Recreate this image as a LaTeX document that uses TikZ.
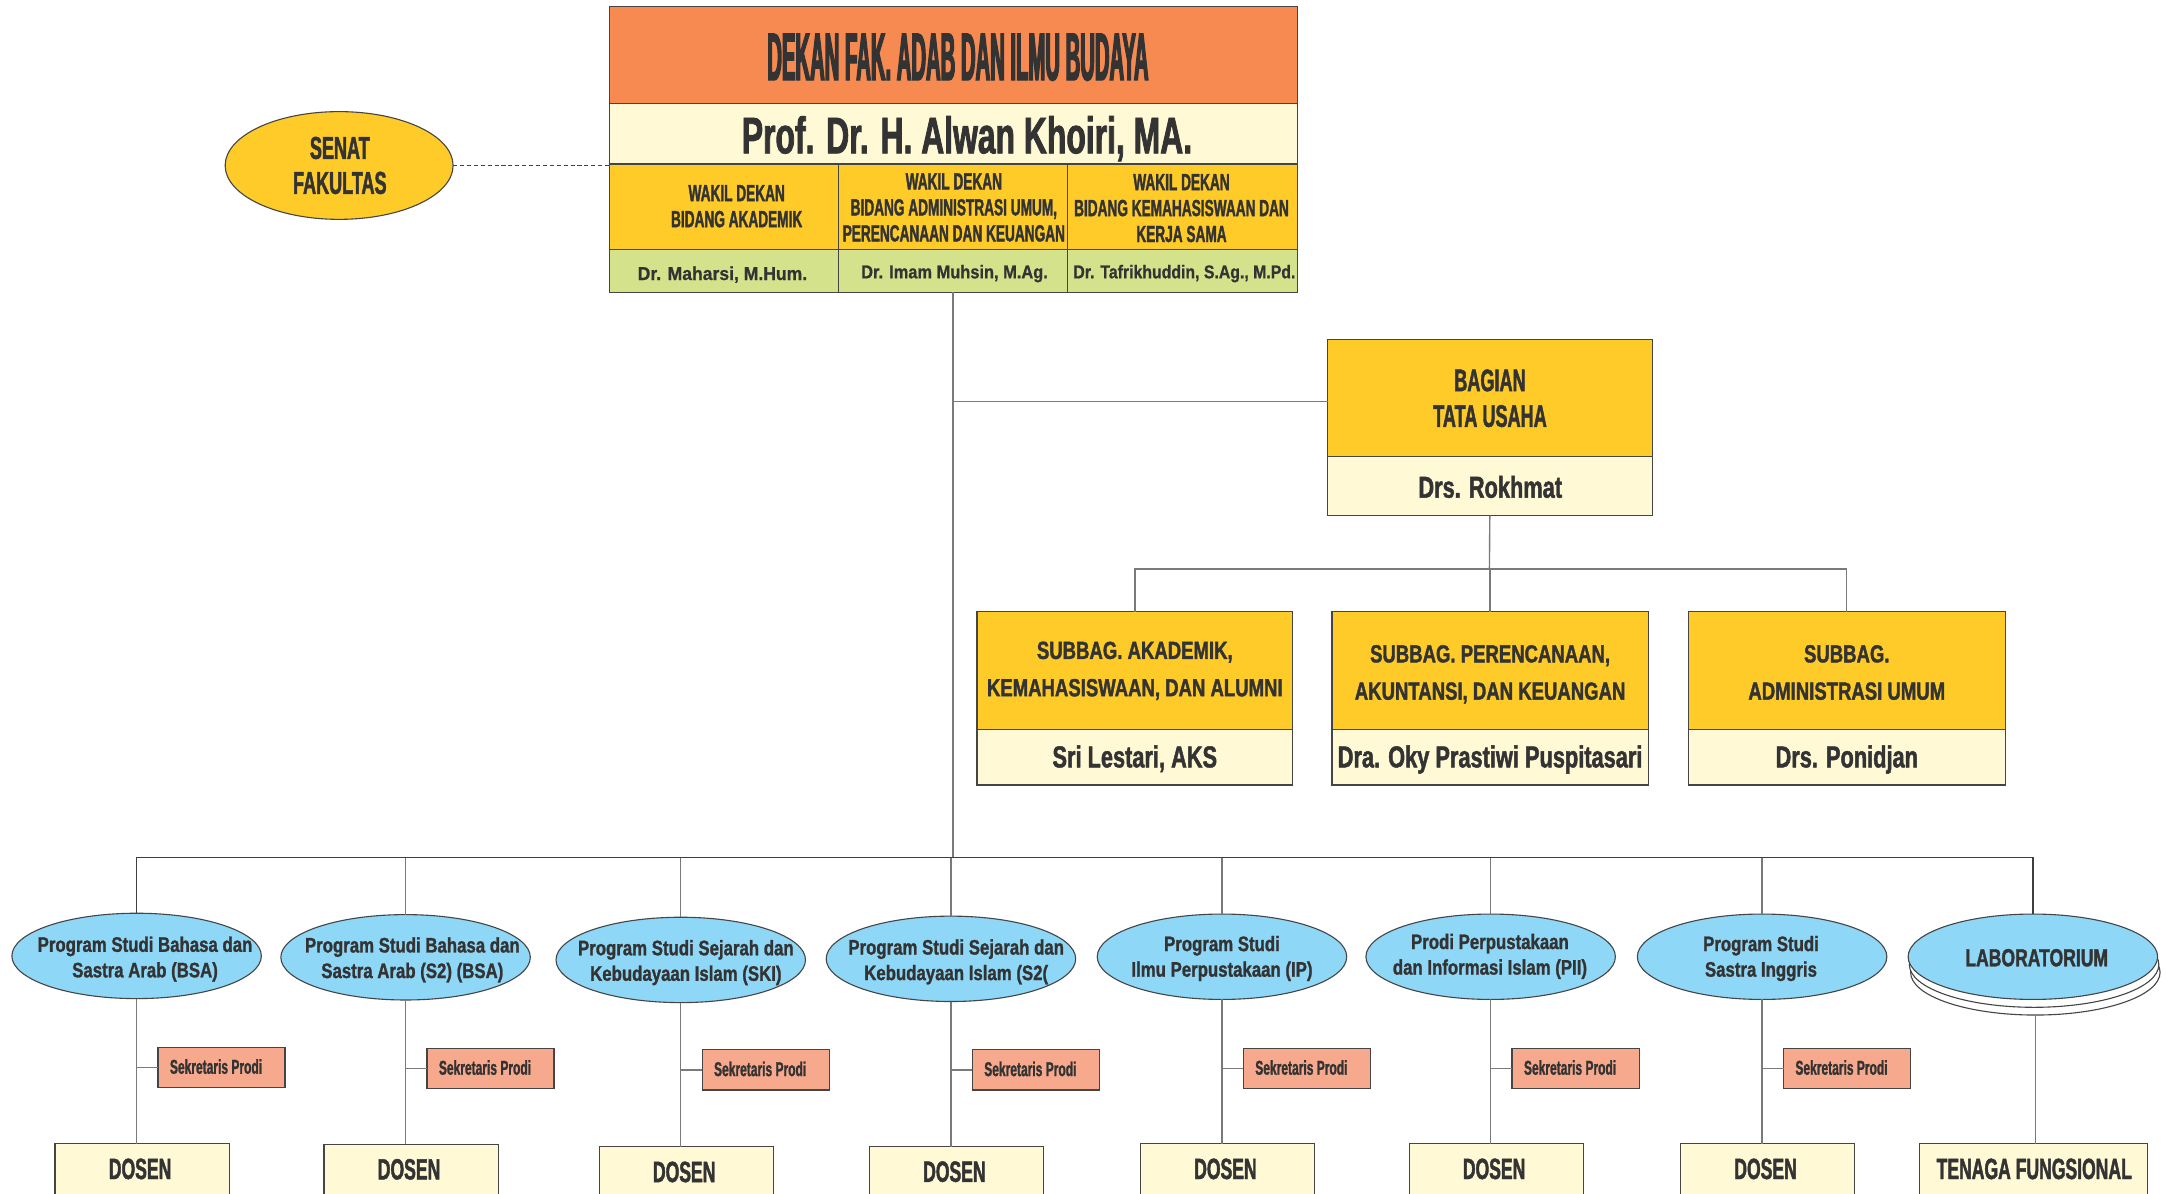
\documentclass[tikz,border=0pt]{standalone}
\usepackage{fontspec}
\setmainfont{Liberation Sans}
\newfontfamily\fTitle{Liberation Sans}[FakeStretch=0.30,FakeBold=1.8]
\newfontfamily\fProf{Liberation Sans}[FakeStretch=0.62,FakeBold=1.5]
\newfontfamily\fWakil{Liberation Sans}[FakeStretch=0.585,FakeBold=1.5]
\newfontfamily\fWname{Liberation Sans}[FakeStretch=0.88,FakeBold=0.8]
\newfontfamily\fSenat{Liberation Sans}[FakeStretch=0.57,FakeBold=1.5]
\newfontfamily\fBag{Liberation Sans}[FakeStretch=0.58,FakeBold=1.5]
\newfontfamily\fName{Liberation Sans}[FakeStretch=0.72,FakeBold=1.5]
\newfontfamily\fSub{Liberation Sans}[FakeStretch=0.75,FakeBold=1.5]
\newfontfamily\fEll{Liberation Sans}[FakeStretch=0.80,FakeBold=1.2]
\newfontfamily\fLab{Liberation Sans}[FakeStretch=0.71,FakeBold=1.5]
\newfontfamily\fSek{Liberation Sans}[FakeStretch=0.60,FakeBold=1.2]
\newfontfamily\fDos{Liberation Sans}[FakeStretch=0.60,FakeBold=1.5]
\usetikzlibrary{shapes.geometric}
\definecolor{cOrange}{HTML}{F68A50}
\definecolor{cYellow}{HTML}{FFCB29}
\definecolor{cCream}{HTML}{FFF9D6}
\definecolor{cGreen}{HTML}{D4E28B}
\definecolor{cBlue}{HTML}{8FD7F7}
\definecolor{cSalmon}{HTML}{F7A98D}
\definecolor{cText}{HTML}{333333}
\definecolor{cBorder}{HTML}{454545}
\definecolor{cLine}{HTML}{7A7A7A}
\definecolor{cBus}{HTML}{3F3F3F}
\begin{document}
\begin{tikzpicture}[x=1pt,y=-1pt,
  cell/.style={draw=cBorder, line width=0.9pt, inner sep=0pt, outer sep=0pt, anchor=north west},
  txt/.style={inner sep=0pt, outer sep=0pt, text=cText},
  mtxt/.style={txt, align=center},
  ell/.style={ellipse, draw=cBorder, line width=0.8pt, fill=cBlue, inner sep=0pt, outer sep=0pt, minimum width=180.6pt, minimum height=61.8pt},
  conn/.style={draw=cLine, line width=1pt},
  bus/.style={draw=cBus, line width=1.1pt},
  fT/.style={font=\fTitle\bfseries\fontsize{48.9}{50}\selectfont},
  fP/.style={font=\fProf\bfseries\fontsize{37.2}{40}\selectfont},
  fW/.style={font=\fWakil\bfseries\fontsize{16.9}{18.8}\selectfont},
  fWN/.style={font=\fWname\bfseries\fontsize{13.5}{15}\selectfont},
  fS/.style={font=\fSenat\bfseries\fontsize{22.9}{25.3}\selectfont},
  fB/.style={font=\fBag\bfseries\fontsize{22.6}{25.8}\selectfont},
  fN/.style={font=\fName\bfseries\fontsize{21.9}{24}\selectfont},
  fSB/.style={font=\fSub\bfseries\fontsize{17.9}{27}\selectfont},
  fE/.style={font=\fEll\bfseries\fontsize{15.2}{18.5}\selectfont},
  fL/.style={font=\fLab\bfseries\fontsize{17.9}{20}\selectfont},
  fK/.style={font=\fSek\bfseries\fontsize{14.5}{16}\selectfont},
  fD/.style={font=\fDos\bfseries\fontsize{21.2}{23}\selectfont}
]
\useasboundingbox (0,0) rectangle (1568,864);
\fill[white] (0,0) rectangle (1568,864);
\clip (0,0) rectangle (1568,864);

% ---------- Dekan block ----------
\node[cell, fill=cOrange, minimum width=498, minimum height=70] (dekan) at (441,4.8) {};
\node[cell, fill=cCream, minimum width=498, minimum height=44] (prof) at (441,74.8) {};
\node[cell, fill=cYellow, minimum width=166, minimum height=61.7] (wk1) at (441,118.8) {};
\node[cell, fill=cYellow, minimum width=166, minimum height=61.7] (wk2) at (607,118.8) {};
\node[cell, fill=cYellow, minimum width=166, minimum height=61.7] (wk3) at (773,118.8) {};
\node[cell, fill=cGreen, minimum width=166, minimum height=31] (wn1) at (441,180.5) {};
\node[cell, fill=cGreen, minimum width=166, minimum height=31] (wn2) at (607,180.5) {};
\node[cell, fill=cGreen, minimum width=166, minimum height=31] (wn3) at (773,180.5) {};

\node[txt, fT, anchor=base] (tDekan) at (693.5,58) {DEKAN FAK. ADAB DAN ILMU BUDAYA};
\node[txt, fP, anchor=base] (tProf) at (700,111) {Prof. Dr. H. Alwan Khoiri, MA.};
\node[mtxt, fW, anchor=north] (tW1) at (533.3,134) {WAKIL DEKAN\\BIDANG AKADEMIK};
\node[mtxt, fW, anchor=north] (tW2) at (690.5,125.5) {WAKIL DEKAN\\BIDANG ADMINISTRASI UMUM,\\PERENCANAAN DAN KEUANGAN};
\node[mtxt, fW, anchor=north] (tW3) at (855.3,126) {WAKIL DEKAN\\BIDANG KEMAHASISWAAN DAN\\KERJA SAMA};
\node[txt, fWN, anchor=base] (tN1) at (523,202.7) {\scalebox{1.07}[1]{Dr. Maharsi, M.Hum.}};
\node[txt, fWN, anchor=base] (tN2) at (691,201.5) {Dr. Imam Muhsin, M.Ag.};
\node[txt, fWN, anchor=base] (tN3) at (857.4,201.5) {\scalebox{0.965}[1]{Dr. Tafrikhuddin, S.Ag., M.Pd.}};

% ---------- Senat ----------
\node[ellipse, draw=cBorder, line width=0.8pt, fill=cYellow, inner sep=0pt, outer sep=0pt,
      minimum width=165, minimum height=78] (senat) at (245.5,119.8) {};
\node[mtxt, fS, anchor=north] (tSenat) at (246,99) {SENAT\\FAKULTAS};
\draw[draw=cBorder, line width=0.8pt, dash pattern=on 3pt off 2pt] (senat.east) -- (senat.east -| prof.west);

% ---------- Bagian Tata Usaha ----------
\node[cell, fill=cYellow, minimum width=235, minimum height=85] (bagT) at (961,245.7) {};
\node[cell, fill=cCream, minimum width=235, minimum height=42.6] (bagN) at (961,330.7) {};
\node[mtxt, fB, anchor=north] (tBag) at (1078.6,267.4) {BAGIAN\\TATA USAHA};
\node[txt, fN, anchor=base] (tRok) at (1078.8,360.3) {Drs. Rokhmat};

% ---------- Subbag ----------
\node[cell, fill=cYellow, minimum width=228.6, minimum height=85.2] (sub1T) at (707.2,442.8) {};
\node[cell, fill=cCream, minimum width=228.6, minimum height=40.3] (sub1N) at (707.2,528) {};
\node[cell, fill=cYellow, minimum width=229, minimum height=85.2] (sub2T) at (964.2,442.8) {};
\node[cell, fill=cCream, minimum width=229, minimum height=40.3] (sub2N) at (964.2,528) {};
\node[cell, fill=cYellow, minimum width=229.6, minimum height=85.2] (sub3T) at (1222.1,442.8) {};
\node[cell, fill=cCream, minimum width=229.6, minimum height=40.3] (sub3N) at (1222.1,528) {};
\node[mtxt, fSB, anchor=north] (tS1) at (821.5,464.5) {SUBBAG. AKADEMIK,\\KEMAHASISWAAN, DAN ALUMNI};
\node[mtxt, fSB, anchor=north] (tS2) at (1078.7,467) {SUBBAG. PERENCANAAN,\\AKUNTANSI, DAN KEUANGAN};
\node[mtxt, fSB, anchor=north] (tS3) at (1336.9,467) {SUBBAG.\\ADMINISTRASI UMUM};
\node[txt, fN, anchor=base] (tSN1) at (821.5,555.5) {Sri Lestari, AKS};
\node[txt, fN, anchor=base] (tSN2) at (1078.7,555.5) {Dra. Oky Prastiwi Puspitasari};
\node[txt, fN, anchor=base] (tSN3) at (1336.9,555.5) {Drs. Ponidjan};

% ---------- connectors upper ----------
\coordinate (busM) at (690,620.6);
\coordinate (bj) at (690,290.8);
\coordinate (sbr) at (1078.2,412);
\draw[conn] (wn2.south) -- (busM);
\draw[conn] (bj) -- (bj -| bagT.west);
\draw[conn] (bagN.south) -- (sbr);
\draw[conn] (sub1T.north) -- (sub1T.north |- sbr) -- (sub3T.north |- sbr) -- (sub3T.north);
\draw[conn] (sub2T.north) -- (sub2T.north |- sbr);

% ---------- Program studi ----------
\foreach \i/\d/\ey/\tx/\ty/\la/\lb/\sy/\dy in {
  1/98.9/692/105/678/{Program Studi Bahasa dan}/{Sastra Arab (BSA)}/758.3/828,
  2/293.6/693/298.5/678.5/{Program Studi Bahasa dan}/{Sastra Arab (S2) (BSA)}/759/828.3,
  3/492.8/694.9/496.5/680.5/{Program Studi Sejarah dan}/{Kebudayaan Islam (SKI)}/760/830.2,
  4/688.4/694.1/692.2/680/{Program Studi Sejarah dan}/{Kebudayaan Islam (S2(}/760/830,
  5/884.6/692.6/884.6/677.5/{Program Studi}/{Ilmu Perpustakaan (IP)}/759/828,
  6/1079.1/692.6/1078.6/676/{Prodi Perpustakaan}/{dan Informasi Islam (PII)}/759/828,
  7/1275.6/692.6/1274.8/677.5/{Program Studi}/{Sastra Inggris}/759/828}{
  \node[ell] (e\i) at (\d,\ey) {};
  \node[mtxt, fE, anchor=north] (et\i) at (\tx,\ty) {\la\\\lb};
  \node[cell, fill=cSalmon, minimum width=92, minimum height=29] (s\i) at (\d+15.5,\sy) {};
  \node[txt, fK, anchor=base] (st\i) at (\d+57.5,\sy+19) {Sekretaris Prodi};
  \node[cell, fill=cCream, anchor=north, minimum width=126, minimum height=60] (dos\i) at (\d+4,\dy) {};
  \node[txt, fD, anchor=base] (dt\i) at (\d+2.5,\dy+25.5) {DOSEN};
  \draw[conn] (e\i.south) -- (e\i.south |- dos\i.north);
  \draw[conn] (s\i.west) -- (s\i.west -| e\i.south);
  \draw[conn] (e\i.north) -- (e\i.north |- busM);
}

% ---------- Laboratorium ----------
\node[ell, fill=white] (lab3) at (1473.4,703.9) {};
\node[ell, fill=white] (lab2) at (1472.5,698.3) {};
\node[ell] (lab) at (1471.6,692.6) {};
\node[txt, fL, anchor=base] (tLab) at (1474.4,699.5) {LABORATORIUM};
\node[cell, fill=cCream, anchor=north, minimum width=165, minimum height=60] (tf) at (1471.9,828) {};
\node[txt, fD, anchor=base] (tTf) at (1472.6,853.5) {TENAGA FUNGSIONAL};
\draw[conn] (lab3.south) -- (lab3.south |- tf.north);

% ---------- bus ----------
\draw[bus] (e1.north) -- (e1.north |- busM) -- (lab.north |- busM) -- (lab.north);
\end{tikzpicture}
\end{document}
